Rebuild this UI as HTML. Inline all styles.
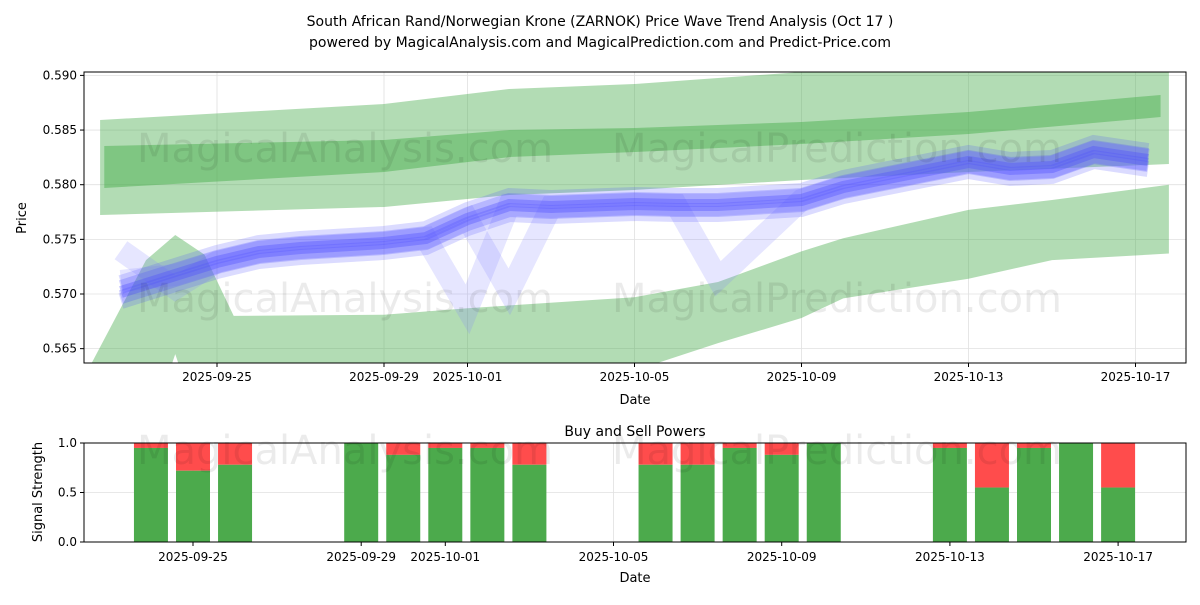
<!DOCTYPE html>
<html><head><meta charset="utf-8"><style>
body{margin:0;background:#fff;font-family:"Liberation Sans",sans-serif}
svg text{font-family:"DejaVu Sans","Liberation Sans",sans-serif;fill:#000}
</style></head><body>
<svg id="c" width="1200" height="600"></svg>
<script>
// day offsets relative to 2025-09-25
const priceDays=[-2.3,-1,0,1,2,4,5,6,7,8,10,11,12,14,15,18,19,20,21,22.3];
const price=[0.57018,0.57174,0.57293,0.57384,0.57421,0.57467,0.57512,0.57686,0.57814,0.57796,0.57823,0.57814,0.57814,0.57860,0.57979,0.58208,0.58144,0.58162,0.58299,0.58226];
const altPriceA=[0.5712,0.57174,0.57293,0.57384,0.57421,0.57467,0.57512,0.5686,0.57814,0.57796,0.57823,0.57814,0.5714,0.57860,0.57979,0.58208,0.58144,0.58162,0.58299,0.58226];
const altPriceB=[0.5740,0.5705,0.57293,0.57384,0.57421,0.57467,0.57512,0.57686,0.5702,0.57796,0.57823,0.57814,0.57814,0.57860,0.57979,0.58208,0.58144,0.58162,0.58299,0.58226];
const upperDays=[-2.8,4,7,10,14,18,22.8];
const upperTop=[0.58592,0.58738,0.58876,0.58921,0.59031,0.59086,0.59123];
const upperBot=[0.57723,0.57796,0.57906,0.57952,0.58043,0.58116,0.58189];
const midDays=[-2.7,4,7,10,14,18,22.6];
const midTop=[0.58354,0.58409,0.58500,0.58519,0.58574,0.58665,0.58821];
const midBot=[0.57970,0.58116,0.58253,0.58299,0.58372,0.58464,0.58619];
const lowerDays=[-3,-1.7,-1,-0.3,0.4,4,6,10,12,14,15,18,20,22.8];
const lowerTop=[0.5637,0.5731,0.5754,0.5736,0.5680,0.5681,0.5687,0.5697,0.5711,0.5739,0.5751,0.5777,0.5786,0.5800];
const lowerBotDays=[22.8,20,18,15,14,12,10,-0.6,-1,-1.4,-3];
const lowerBot=[0.5737,0.5731,0.5714,0.5696,0.5678,0.5655,0.5630,0.5600,0.5645,0.5600,0.5600];
const barDates=["2025-09-24","2025-09-25","2025-09-26","2025-09-29","2025-09-30","2025-10-01","2025-10-02","2025-10-03","2025-10-06","2025-10-07","2025-10-08","2025-10-09","2025-10-10","2025-10-13","2025-10-14","2025-10-15","2025-10-16","2025-10-17"];
const buyVals=[0.95,0.72,0.78,1.0,0.88,0.95,0.95,0.78,0.78,0.78,0.95,0.88,1.0,0.95,0.55,0.95,1.0,0.55];
const xTicks=["2025-09-25","2025-09-29","2025-10-01","2025-10-05","2025-10-09","2025-10-13","2025-10-17"];
const yTicks=[0.565,0.570,0.575,0.580,0.585,0.590];
const y2Ticks=[0.0,0.5,1.0];

const svg=document.getElementById('c');const NS="http://www.w3.org/2000/svg";
function el(t,a,p){const e=document.createElementNS(NS,t);for(const k in a)e.setAttribute(k,a[k]);(p||svg).appendChild(e);return e;}
const day0=Date.parse("2025-09-25");
const dd=d=>(Date.parse(d)-day0)/864e5;
const XD=n=>217+n*41.75;
const X=d=>XD(dd(d));
const X2=d=>193+dd(d)*42.05;
const Y=v=>294-(v-0.570)*10930;
const Y2=v=>542-v*99;
function txt(s,x,y,o){const t=el('text',Object.assign({x:x,y:y,'font-size':12},o||{}));t.textContent=s;return t;}

let tt0=txt("South African Rand/Norwegian Krone (ZARNOK) Price Wave Trend Analysis (Oct 17 )",600,26,{'text-anchor':'middle','font-size':14});


tt0=txt("powered by MagicalAnalysis.com and MagicalPrediction.com and Predict-Price.com",600,47,{'text-anchor':'middle','font-size':14});



const topG=el('g',{});


const clip=el('clipPath',{id:'cp'});el('rect',{x:84,y:72,width:1102,height:291},clip);
const g=el('g',{'clip-path':'url(#cp)'},topG);
xTicks.forEach(d=>el('line',{x1:X(d),x2:X(d),y1:72,y2:363,stroke:'#e0e0e0','stroke-width':0.8},g));
yTicks.forEach(v=>el('line',{x1:84,x2:1186,y1:Y(v),y2:Y(v),stroke:'#e0e0e0','stroke-width':0.8},g));
function poly(dA,tA,dB,bA,col,op,name){
  let d=dA.map((n,i)=>(i?'L':'M')+XD(n)+','+Y(tA[i])).join('');
  d+=dB.map((n,i)=>'L'+XD(n)+','+Y(bA[i])).join('')+'Z';
  const p=el('path',{d:d,fill:col,'fill-opacity':op},g);
  
  
}
poly(upperDays,upperTop,upperDays.slice().reverse(),upperBot.slice().reverse(),'#4caf50',0.43,'upper-outer-band');
poly(midDays,midTop,midDays.slice().reverse(),midBot.slice().reverse(),'#4caf50',0.5,'upper-mid-band');
poly(lowerDays,lowerTop,lowerBotDays,lowerBot,'#4caf50',0.43,'lower-band');
[["MagicalAnalysis.com",345,162],["MagicalPrediction.com",837,162],["MagicalAnalysis.com",345,312],["MagicalPrediction.com",837,312]].forEach(w=>{const tt=txt(w[0],w[1],w[2],{'text-anchor':'middle','font-size':40,'fill':'#000','fill-opacity':0.08});

});
function line(arr,off,col,op,w,name){
  const d=priceDays.map((n,i)=>(i?'L':'M')+XD(n)+','+(Y(arr[i])+off)).join('');
  const p=el('path',{d:d,fill:'none',stroke:col,'stroke-opacity':op,'stroke-width':w,'stroke-linejoin':'miter'},g);
  
  
}
line(altPriceA,0,'#8080ff',0.2,22,'ensemble-line-a');
line(altPriceB,0,'#8080ff',0.2,22,'ensemble-line-b');
[[-9,0.2,16],[9,0.2,16],[-5,0.25,14],[5,0.25,14],[0,0.35,12]].forEach(o=>line(price,o[0],'#4a4aff',o[1],o[2],'price-wave-line'));
el('rect',{x:84,y:72,width:1102,height:291,fill:'none',stroke:'#000','stroke-width':1},topG);
xTicks.forEach(d=>{el('line',{x1:X(d),x2:X(d),y1:363,y2:367,stroke:'#000'},topG);txt(d,X(d),381,{'text-anchor':'middle'});});
yTicks.forEach(v=>{el('line',{x1:80,x2:84,y1:Y(v),y2:Y(v),stroke:'#000'},topG);txt(v.toFixed(3),77,Y(v)+4,{'text-anchor':'end'});});
txt("Date",635,404,{'text-anchor':'middle','font-size':13});
txt("Price",26,218,{'text-anchor':'middle','font-size':13,transform:'rotate(-90 26 218)'});

const bot=el('g',{});


txt("Buy and Sell Powers",635,436,{'text-anchor':'middle','font-size':14});
xTicks.forEach(d=>el('line',{x1:X2(d),x2:X2(d),y1:443,y2:542,stroke:'#e0e0e0','stroke-width':0.8},bot));
y2Ticks.forEach(v=>el('line',{x1:84,x2:1186,y1:Y2(v),y2:Y2(v),stroke:'#e0e0e0','stroke-width':0.8},bot));
txt("MagicalAnalysis.com",345,464,{'text-anchor':'middle','font-size':40,'fill':'#000','fill-opacity':0.08});
txt("MagicalPrediction.com",837,464,{'text-anchor':'middle','font-size':40,'fill':'#000','fill-opacity':0.08});
barDates.forEach((d,i)=>{const v=buyVals[i];const x=X2(d)-17;
const r1=el('rect',{x:x,y:Y2(1),width:34,height:Y2(v)-Y2(1),fill:'#ff4c4c'},bot);


const r2=el('rect',{x:x,y:Y2(v),width:34,height:Y2(0)-Y2(v),fill:'#4caa4c'},bot);

});
el('rect',{x:84,y:443,width:1102,height:99,fill:'none',stroke:'#000'},bot);
xTicks.forEach(d=>{el('line',{x1:X2(d),x2:X2(d),y1:542,y2:546,stroke:'#000'},bot);txt(d,X2(d),561,{'text-anchor':'middle'});});
y2Ticks.forEach(v=>{el('line',{x1:80,x2:84,y1:Y2(v),y2:Y2(v),stroke:'#000'},bot);txt(v.toFixed(1),77,Y2(v)+4,{'text-anchor':'end'});});
txt("Date",635,582,{'text-anchor':'middle','font-size':13});
txt("Signal Strength",42,492,{'text-anchor':'middle','font-size':13,transform:'rotate(-90 42 492)'});
</script>
</body></html>
